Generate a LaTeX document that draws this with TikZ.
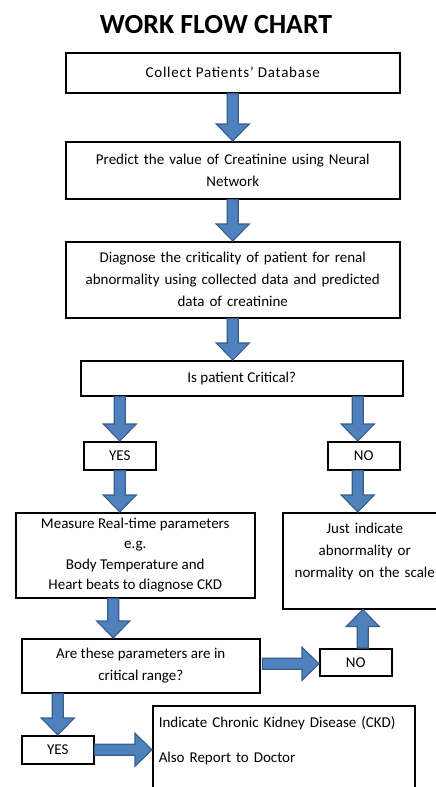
\documentclass[tikz,border=0pt]{standalone}
\usepackage{fontspec}
\setmainfont{Carlito}
\usepackage{tikz}
\usetikzlibrary{positioning, calc}
\usepackage{xcolor}
\definecolor{arrowfill}{RGB}{79,129,189}
\definecolor{arrowline}{RGB}{56,93,138}

\newcommand{\flowarrow}[2]{%
	\coordinate (fs) at (#1);
	\coordinate (fe) at (#2);
	\coordinate (fh) at ($(fe)!17pt!(fs)$);
	\filldraw[blockarrow] ($(fs)!5.5pt!90:(fe)$) -- ($(fh)!5.5pt!-90:(fs)$) -- ($(fh)!16.5pt!-90:(fs)$) -- (fe)
		-- ($(fh)!16.5pt!90:(fs)$) -- ($(fh)!5.5pt!90:(fs)$) -- ($(fs)!5.5pt!-90:(fe)$) -- cycle;
}

\begin{document}
\begin{tikzpicture}[x=1pt, y=-1pt,
		box/.style={draw, line width=1.5pt, inner sep=2pt, anchor=north west, align=center,
			font=\fontsize{15}{22}\selectfont},
		blockarrow/.style={fill=arrowfill, draw=arrowline, line width=1.1pt, line join=miter}]
				\useasboundingbox (0,0) rectangle (436,787);
				\node[anchor=base, font=\fontsize{27.7}{30}\selectfont\bfseries] (title) at (216,33) {WORK FLOW CHART};
				
				\node[box, minimum width=334, minimum height=40] (collect) at (65,52) {\addfontfeature{LetterSpace=5}Collect Patients' Database};
				\node[box, minimum width=334, minimum height=57, text width=320] (predict) at (65,141) {Predict the value of Creatinine using Neural\\Network};
				\node[box, minimum width=334, minimum height=76, text width=320] (diag) at (65,241) {Diagnose the criticality of patient for renal\\abnormality using collected data and predicted\\data of creatinine};
				\node[box, minimum width=322, minimum height=35] (crit) at (80,360) {Is patient Critical?};
				
				\node[box, minimum width=72, minimum height=28] (yes1) at (83,441) {YES};
				\node[box, minimum width=72, minimum height=28] (no1) at (327,441) {NO};
				
				\node[box, minimum width=239, minimum height=85, font=\fontsize{15}{20.5}\selectfont] (meas) at (15,512) {Measure Real-time parameters\\e.g.\\Body Temperature and\\Heart beats to diagnose CKD};
				\node[box, minimum width=164, minimum height=96, text width=156] (just) at (282,512) {Just indicate\\abnormality or\\normality on the scale\\[-2pt]\mbox{}};
				
				\node[box, minimum width=238, minimum height=54] (crit2) at (21,638) {Are these parameters are in\\critical range?};
				\node[box, minimum width=72, minimum height=27] (no2) at (319,648) {NO};
				\node[box, minimum width=72, minimum height=28] (yes2) at (21,735) {YES};
				\node[box, minimum width=262, text width=250, align=left, inner ysep=11pt, font=\fontsize{15}{35}\selectfont] (report) at (152,705) {Indicate Chronic Kidney Disease (CKD)\\Also Report to Doctor\\[30pt]\mbox{}};
				
				% arrows
				\flowarrow{collect.south}{predict.north}
				\flowarrow{predict.south}{diag.north}
				\flowarrow{diag.south}{diag.south |- crit.north}
				\flowarrow{crit.south -| yes1.north}{yes1.north}
				\flowarrow{$(crit.south -| no1.north)+(-6,0)$}{$(no1.north)+(-6,0)$}
				\flowarrow{yes1.south}{yes1.south |- meas.north}
				\flowarrow{$(no1.south)+(-6,0)$}{$(no1.south |- just.north)+(-6,0)$}
				\flowarrow{$(meas.south)+(-22,0)$}{$(meas.south |- crit2.north)+(-22,0)$}
				\flowarrow{$(crit2.east)+(2,-2)$}{$(crit2.east -| no2.west)+(0,-2)$}
				\flowarrow{$(no2.north)+(7,0)$}{$(no2.north |- just.south)+(7,0)$}
				\flowarrow{crit2.south -| yes2.north}{yes2.north}
				\flowarrow{yes2.east}{yes2.east -| report.west}
\end{tikzpicture}
\end{document}
